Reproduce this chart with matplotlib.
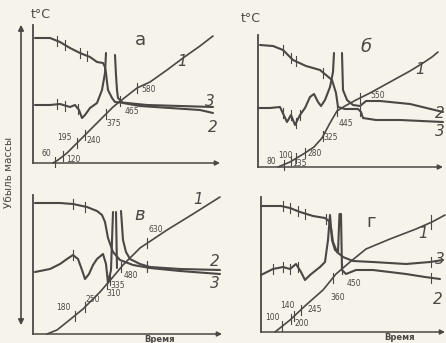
import numpy as np
import matplotlib.pyplot as plt
from matplotlib.patches import FancyArrowPatch

nan = np.nan

# --- panel а: temperature (1), DTA (2), mass loss (3) ---
a_time_T = [20, 25, 34, 50, 67, 80, 90, 104, 117, 134, 150, 167, 180]
a_temp = [0, 3, 10, 26, 43, 56, 64, 75, 81, 93, 105, 117, 127]
a_time_tg = [2, 17, 27, 37, 47, 57, 64, 70, 72, 73, 74, 75, 79, 82, 94, 114, 147, 180]
a_tg = [125, 125, 121, 115, 110, 106, 101, 100, 96, 90, 81, 73, 65, 61, 60, 58, 57, 56]
a_time_dta = [2, 17, 27, 37, 42, 46, 49, 52, 57, 64, 69, 72, 73, nan,
              82, 83, 84, 85, 90, 107, 137, 167, 180]
a_dta = [58, 58, 59, 56, 58, 53, 45, 48, 55, 60, 73, 90, 110, nan,
         108, 88, 73, 65, 60, 57, 55, 53, 50]
a_marks = ['60', '120', '195', '240', '375', '465', '580']
a_marks_t = [22, 30, 44, 52, 73, 87, 104]
a_tg_ticks = [24, 32, 47, 54]
a_dta_ticks = [24, 32, 45]

# --- panel б ---
b_time_T = [20, 32, 47, 56, 64, 72, 79, 87, 98, 112, 132, 152, 165, 174, 180]
b_temp = [0, 5, 14, 20, 29, 44, 56, 61, 67, 74, 85, 96, 104, 110, 115]
b_time_tg = [2, 15, 25, 35, 48, 62, 74, 78, 80, 87, 100, 103, 105, 118, 142, 185]
b_tg = [122, 121, 117, 107, 101, 97, 87, 74, 60, 58, 58, 55, 49, 47, 47, 45]
b_time_dta = [0, 12, 22, 29, 33, 37, 42, 47, 52, 56, 60, 63, 67, 72, 75, 76, nan,
              84, 85, 89, 95, 102, 108, 122, 152, 185]
b_dta = [59, 59, 60, 45, 52, 42, 52, 59, 70, 73, 65, 61, 67, 80, 95, 114, nan,
         114, 77, 67, 62, 61, 66, 66, 63, 55]
b_marks = ['80', '100', '135', '280', '325', '445', '550']
b_marks_t = [26, 33, 38, 47, 65, 79, 102]
b_tg_ticks = [25, 33, 38, 65, 102]
b_dta_ticks = [25, 33, 38, 42]

# --- panel в ---
c_time_T = [14, 24, 34, 50, 67, 80, 90, 107, 134, 160, 187]
c_temp = [0, 4, 12, 25, 42, 57, 69, 86, 104, 120, 137]
c_time_tg = [2, 27, 40, 54, 64, 69, 72, 75, 80, 87, 100, 117, 147, 187]
c_tg = [131, 131, 130, 127, 123, 119, 112, 96, 82, 74, 69, 66, 63, 60]
c_time_dta = [2, 17, 27, 34, 40, 45, 49, 52, 56, 60, 64, 70, 73, 75, 78, 80, nan,
              83, 84, nan, 88, 90, 93, 97, 107, 117, 147, 187]
c_dta = [62, 65, 70, 75, 79, 75, 64, 55, 60, 69, 75, 80, 70, 51, 64, 122, nan,
         122, 66, nan, 123, 94, 82, 75, 70, 67, 65, 64]
c_marks = ['180', '250', '310', '335', '480', '630']
c_marks_t = [42, 52, 74, 77, 88, 114]
c_tg_ticks = [40, 52, 114]
c_dta_ticks = [40, 114]

# --- panel г ---
d_time_T = [14, 29, 45, 62, 75, 89, 105, 129, 155, 171, 184]
d_temp = [0, 12, 27, 42, 58, 70, 83, 93, 103, 110, 117]
d_time_tg = [0, 20, 29, 39, 52, 64, 68, 70, 72, 76, 82, 92, 112, 145, 169, 182]
d_tg = [126, 126, 124, 120, 116, 114, 111, 104, 90, 80, 75, 71, 70, 68, 70, 72]
d_time_dta = [0, 12, 22, 29, 35, 40, 44, 49, 59, 64, 67, 69, 71, 74, 77, 78.5, nan,
              80, 81, 85, 95, 112, 145, 164, 179]
d_dta = [57, 63, 65, 63, 68, 60, 52, 57, 65, 70, 92, 117, 92, 82, 80, 118, nan,
         118, 62, 58, 62, 62, 58, 55, 53]
d_marks = ['100', '140', '200', '245', '360', '450']
d_marks_t = [21, 30, 33, 40, 72, 81]
d_tg_ticks = [22, 29, 37, 44, 65, 170]
d_dta_ticks = [12, 22, 29, 37, 170]
d_T_ticks = [170]

W, H = 446, 343
INK = '#4a4744'
PAPER = '#f6f3eb'

fig = plt.figure(figsize=(W / 100, H / 100), dpi=100, facecolor=PAPER)


def make_panel(x0, y_base, w, h):
    ax = fig.add_axes([x0 / W, (H - y_base) / H, w / W, h / H])
    ax.set_xlim(0, w)
    ax.set_ylim(0, h)
    ax.axis('off')
    ax.plot([0, 0], [0, h], color=INK, lw=1.3, clip_on=False)
    ax.annotate('', xy=(w, 0), xytext=(0, 0),
                arrowprops=dict(arrowstyle='-|>', color=INK, lw=1.1,
                                mutation_scale=7, shrinkA=0, shrinkB=0),
                annotation_clip=False)
    return ax


def curve(ax, t, v, lw=1.5):
    ax.plot(t, v, color=INK, lw=lw, clip_on=False, solid_capstyle='round')


def ticks_on(ax, t, v, where, half=5):
    t = np.asarray(t, float)
    v = np.asarray(v, float)
    ok = ~np.isnan(t)
    for x in where:
        y = np.interp(x, t[ok], v[ok])
        ax.plot([x, x], [y - half, y + half], color=INK, lw=0.8, clip_on=False)


def temp_marks(ax, t, v, marks, marks_t, pos):
    ticks_on(ax, t, v, marks_t, half=5)
    for lab, (px, py) in zip(marks, pos):
        ax.text(px, py, lab, fontsize=5.5, color=INK, ha='center', va='center')


def panel(ax, tT, T, ttg, tg, tdta, dta):
    curve(ax, tT, T, lw=1.2)
    curve(ax, ttg, tg)
    curve(ax, tdta, dta)


def numbers(ax, items):
    for lab, xy in items:
        ax.text(*xy, lab, fontsize=11, color=INK, ha='center', va='center',
                style='italic')


# panel а
ax = make_panel(33, 163, 187, 138)
panel(ax, a_time_T, a_temp, a_time_tg, a_tg, a_time_dta, a_dta)
ticks_on(ax, a_time_tg, a_tg, a_tg_ticks)
ticks_on(ax, a_time_dta, a_dta, a_dta_ticks)
temp_marks(ax, a_time_T, a_temp, a_marks, a_marks_t,
           [(13, 10), (40, 4), (31, 26), (61, 23), (81, 40), (99, 51), (116, 73)])
ax.text(8, 148, 't°C', fontsize=9, color=INK, ha='center', va='center')
ax.text(107, 123, 'а', fontsize=13, color=INK, ha='center', va='center')
numbers(ax, [('1', (149, 101)), ('3', (177, 61)), ('2', (180, 36))])

# panel б
ax = make_panel(258, 167, 185, 132)
panel(ax, b_time_T, b_temp, b_time_tg, b_tg, b_time_dta, b_dta)
ticks_on(ax, b_time_tg, b_tg, b_tg_ticks)
ticks_on(ax, b_time_dta, b_dta, b_dta_ticks)
temp_marks(ax, b_time_T, b_temp, b_marks, b_marks_t,
           [(13, 6), (27, 12), (41, 3), (57, 13), (73, 30), (88, 44), (120, 72)])
ax.text(-7, 148, 't°C', fontsize=9, color=INK, ha='center', va='center')
ax.text(108, 120, 'б', fontsize=13, color=INK, ha='center', va='center', style='italic')
numbers(ax, [('1', (162, 97)), ('2', (182, 54)), ('3', (182, 35))])

# panel в
ax = make_panel(33, 334, 189, 139)
panel(ax, c_time_T, c_temp, c_time_tg, c_tg, c_time_dta, c_dta)
ticks_on(ax, c_time_tg, c_tg, c_tg_ticks)
ticks_on(ax, c_time_dta, c_dta, c_dta_ticks)
temp_marks(ax, c_time_T, c_temp, c_marks, c_marks_t,
           [(30, 27), (60, 34), (81, 40), (85, 48), (98, 59), (123, 104)])
ax.text(107, 119, 'в', fontsize=13, color=INK, ha='center', va='center', style='italic')
ax.text(127, -6, 'Время', fontsize=6, color=INK, ha='center', va='center', fontweight='bold')
numbers(ax, [('1', (165, 135)), ('2', (182, 72)), ('3', (182, 51))])

# panel г
ax = make_panel(261, 332, 184, 135)
panel(ax, d_time_T, d_temp, d_time_tg, d_tg, d_time_dta, d_dta)
ticks_on(ax, d_time_tg, d_tg, d_tg_ticks)
ticks_on(ax, d_time_dta, d_dta, d_dta_ticks)
ticks_on(ax, d_time_T, d_temp, d_T_ticks, half=7)
temp_marks(ax, d_time_T, d_temp, d_marks, d_marks_t,
           [(11, 14), (26, 27), (41, 9), (54, 23), (77, 35), (93, 48)])
ax.text(110, 110, 'г', fontsize=13, color=INK, ha='center', va='center')
ax.text(139, -5, 'Время', fontsize=6, color=INK, ha='center', va='center', fontweight='bold')
numbers(ax, [('1', (162, 98)), ('3', (179, 73)), ('2', (177, 33))])

# common mass-loss axis on the left
fig.add_artist(FancyArrowPatch((21 / W, 1 - 22 / H), (21 / W, 1 - 328 / H),
                               transform=fig.transFigure, arrowstyle='<|-|>',
                               mutation_scale=8, color=INK, lw=1.2))
fig.text(9 / W, 1 - 172 / H, 'Убыль массы', rotation=90, fontsize=7.5,
         color=INK, ha='center', va='center')

fig.savefig('out.png', dpi=100, facecolor=PAPER)
